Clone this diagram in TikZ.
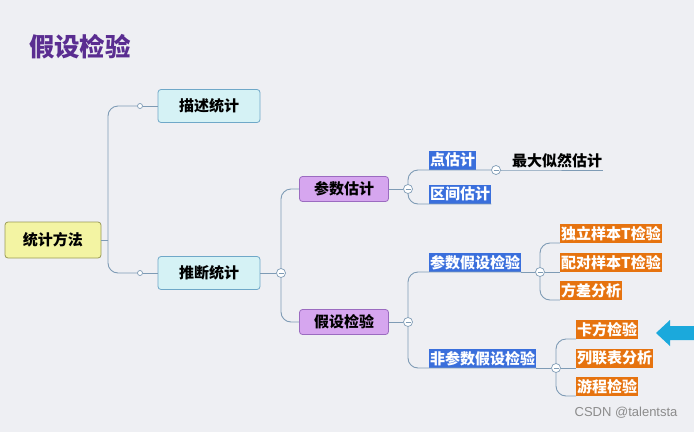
\documentclass[tikz,border=0pt]{standalone}
\usepackage{fontspec}
\newfontfamily\cjk{Noto Sans CJK SC}
\newfontfamily\marksans{Liberation Sans}
\definecolor{bgcol}{HTML}{EEEFF3}
\definecolor{titlecol}{HTML}{5A2D91}
\definecolor{linecol}{HTML}{7E9BB5}
\definecolor{rootfill}{HTML}{F3F4A3}
\definecolor{rootline}{HTML}{9A9A55}
\definecolor{cyanfill}{HTML}{D5F2F5}
\definecolor{cyanline}{HTML}{6FA8C8}
\definecolor{purpfill}{HTML}{D6A6EF}
\definecolor{purpline}{HTML}{9B6BC0}
\definecolor{bluelbl}{HTML}{3A6FDC}
\definecolor{orangelbl}{HTML}{E6730F}
\definecolor{arrowcol}{HTML}{1BA9DC}
\tikzset{
  txt/.style={font=\cjk\bfseries\fontsize{15}{16}\selectfont},
  box/.style={txt,draw,rounded corners=3pt,line width=0.8pt,inner sep=0pt},
  rootbox/.style={box,fill=rootfill,draw=rootline,minimum width=96pt,minimum height=36pt},
  cyanbox/.style={box,fill=cyanfill,draw=cyanline,minimum width=102pt,minimum height=33pt},
  purpbox/.style={box,fill=purpfill,draw=purpline,minimum width=89pt,minimum height=25pt},
  lbl/.style={txt,text=white,inner xsep=1pt,inner ysep=0pt,minimum height=19pt,anchor=south west},
  bluelabel/.style={lbl,fill=bluelbl},
  orangelabel/.style={lbl,fill=orangelbl},
  plainlabel/.style={txt,inner xsep=1pt,inner ysep=0pt,minimum height=19pt,anchor=south west},
  conn/.style={draw=linecol,line width=0.9pt,rounded corners=10pt},
  dot/.style={circle,draw=linecol,fill=white,line width=0.7pt,inner sep=0pt,minimum size=5pt},
  fold/.style={circle,draw=linecol,fill=white,line width=0.7pt,inner sep=0pt,minimum size=9pt,
    path picture={\draw[linecol,line width=0.7pt] ([xshift=2pt]path picture bounding box.west) -- ([xshift=-2pt]path picture bounding box.east);}},
}
\begin{document}
\begin{tikzpicture}[x=1pt,y=-1pt]
  \fill[bgcol] (0,0) rectangle (694,432);
  \useasboundingbox (0,0) rectangle (694,432);

  \node[font=\cjk\bfseries\fontsize{25.5}{26}\selectfont,text=titlecol] (title) at (80,47) {假设检验};

  % level 1
  \node[rootbox] (tjff) at (53,240) {统计方法};
  \node[cyanbox] (mstj) at (209,106) {描述统计};
  \node[cyanbox] (tdtj) at (209,273) {推断统计};
  \node[dot] (d1) at (140,106) {};
  \node[dot] (d2) at (140,273) {};
  \coordinate (b1) at (108,240);
  \draw[conn] (tjff.east) -- (b1);
  \draw[conn] (b1) |- (d1);
  \draw[conn] (b1) |- (d2);
  \draw[conn] (d1) -- (mstj.west);
  \draw[conn] (d2) -- (tdtj.west);

  % level 2
  \node[purpbox] (csgj) at (344,189) {参数估计};
  \node[purpbox] (jsjy) at (344,322) {假设检验};
  \node[fold] (f1) at (281,273) {};
  \draw[conn] (tdtj.east) -- (f1);
  \draw[conn] (f1.north) |- (csgj.west);
  \draw[conn] (f1.south) |- (jsjy.west);

  % parameter estimation
  \node[fold] (f2) at (408,189) {};
  \node[bluelabel] (ddgj) at (429,170) {点估计};
  \node[bluelabel] (qjgj) at (429,204) {区间估计};
  \node[fold] (f3) at (496,170) {};
  \node[plainlabel] (zdsr) at (511,170) {最大似然估计};
  \draw[conn] (csgj.east) -- (f2);
  \draw[conn] (f2.north) |- (ddgj.south west) -- (f3);
  \draw[conn] (f2.south) |- (qjgj.south west) -- (qjgj.south east);
  \draw[conn] (f3) -- (zdsr.south west) -- (zdsr.south east);

  % hypothesis testing
  \node[fold] (f4) at (408,322) {};
  \node[bluelabel] (csjy) at (429,272) {参数假设检验};
  \node[bluelabel] (fcsjy) at (429,368) {非参数假设检验};
  \draw[conn] (jsjy.east) -- (f4);
  \draw[conn] (f4.north) |- (csjy.south west) -- (csjy.south east);
  \draw[conn] (f4.south) |- (fcsjy.south west) -- (fcsjy.south east);

  \node[fold] (f5) at (540,272) {};
  \node[orangelabel] (dlyb) at (560,243) {独立样本T检验};
  \node[orangelabel] (pdyb) at (560,272) {配对样本T检验};
  \node[orangelabel] (fcfx) at (560,300) {方差分析};
  \draw[conn] (csjy.south east) -- (f5);
  \draw[conn] (f5.north) |- (dlyb.south west);
  \draw[conn] (f5) -- (pdyb.south west);
  \draw[conn] (f5.south) |- (fcfx.south west);

  \node[fold] (f6) at (556,368) {};
  \node[orangelabel] (kfjy) at (576,339) {卡方检验};
  \node[orangelabel] (llbf) at (576,368) {列联表分析};
  \node[orangelabel] (ycjy) at (576,396) {游程检验};
  \draw[conn] (fcsjy.south east) -- (f6);
  \draw[conn] (f6.north) |- (kfjy.south west);
  \draw[conn] (f6) -- (llbf.south west);
  \draw[conn] (f6.south) |- (ycjy.south west);

  % pointer
  \fill[arrowcol] (656,333) -- (670,320) -- (670,326) -- (694,326) -- (694,340) -- (670,340) -- (670,346) -- cycle;

  \node[font=\marksans\fontsize{13}{14}\selectfont,text=black!45,anchor=east] (mark) at (681,413) {CSDN @talentsta};
\end{tikzpicture}
\end{document}
